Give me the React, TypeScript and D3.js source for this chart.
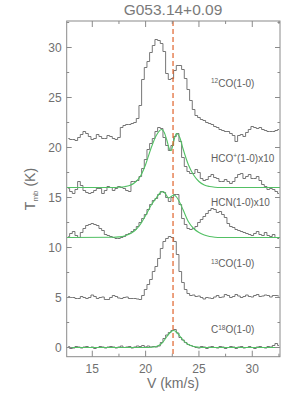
import * as d3 from "d3";

// channel grid of the spectra (km/s)
const V0 = 12.75;
const DV = 0.25;

const CO12 = [
  20.9, 20.8, 20.8, 20.7, 21.0, 21.3, 21.6, 21.4, 21.1, 20.8,
  20.9, 21.3, 21.1, 20.9, 20.9, 21.2, 21.1, 20.9, 20.8, 21.0,
  22.0, 22.2, 22.3, 22.3, 22.4, 22.5, 22.9, 24.2, 26.8, 28.0,
  28.6, 29.5, 30.2, 30.8, 30.7, 30.4, 29.6, 27.4, 26.8, 26.9,
  27.7, 28.2, 28.2, 27.8, 26.9, 25.8, 24.7, 23.8, 23.2, 23.0,
  22.8, 22.7, 22.5, 22.4, 22.3, 22.1, 22.0, 21.8, 21.7, 21.6,
  21.6, 21.4, 21.2, 20.6, 21.2, 21.3, 21.1, 21.5, 21.8, 22.1,
  22.0, 21.9, 22.0, 21.8, 21.7, 21.6, 21.6, 21.6, 21.7, 21.8,
];
const HCOP = [
  15.9, 15.6, 15.4, 15.8, 16.6, 16.2, 15.7, 15.5, 15.4, 15.5,
  15.7, 15.9, 15.9, 15.4, 15.7, 16.1, 16.0, 15.7, 15.9, 16.1,
  16.0, 15.9, 15.7, 15.6, 16.6, 16.6, 16.7, 17.1, 17.9, 18.8,
  19.8, 20.4, 20.9, 21.6, 22.0, 21.9, 21.0, 20.2, 19.7, 20.2,
  21.1, 21.4, 20.6, 19.0, 18.1, 17.6, 17.4, 17.4, 17.8, 17.5,
  16.9, 16.7, 16.8, 17.1, 17.3, 17.0, 16.9, 16.6, 16.6, 16.8,
  16.6, 16.4, 16.6, 17.0, 17.3, 17.4, 16.9, 17.1, 17.3, 16.9,
  16.9, 17.1, 16.7, 16.3, 16.1, 15.8, 15.9, 15.8, 15.6, 15.4,
];
const HCN = [
  11.1, 11.4, 11.6, 11.2, 11.0, 11.5, 11.9, 12.2, 12.3, 12.4,
  12.3, 12.2, 11.9, 11.7, 11.3, 11.2, 11.1, 11.0, 10.9, 10.9,
  11.0, 11.1, 11.3, 11.4, 11.6, 11.8, 12.1, 12.5, 12.9, 13.3,
  13.8, 14.3, 14.7, 14.9, 15.3, 15.6, 15.5, 15.0, 14.6, 15.0,
  15.3, 15.3, 14.3, 12.9, 12.3, 11.9, 11.8, 11.9, 12.1, 12.5,
  12.8, 13.1, 13.4, 13.7, 13.9, 13.8, 13.5, 13.6, 13.3, 13.0,
  12.4, 12.1, 12.0, 11.8, 11.7, 11.6, 11.5, 11.4, 11.3, 11.2,
  11.4, 11.6, 11.3, 11.2, 11.5, 11.2, 11.1, 11.3, 11.0, 10.9,
];
const CO13 = [
  5.1, 5.0, 5.0, 4.9, 4.9, 5.1, 5.0, 4.9, 5.0, 5.25,
  5.1, 4.9, 5.0, 5.05, 4.8, 4.8, 5.0, 5.2, 5.1, 4.95,
  4.9, 5.0, 5.05, 4.9, 4.9, 4.9, 4.85, 4.8, 5.2, 5.8,
  6.3, 6.8, 7.6, 8.1, 8.9, 9.9, 10.6, 10.9, 11.1, 11.0,
  10.6, 9.3, 7.6, 6.5, 5.8, 5.4, 5.2, 5.25, 5.1, 5.15,
  5.0, 4.85, 5.0, 4.95, 4.9, 5.05, 5.2, 5.0, 5.05, 5.3,
  5.2, 5.0, 5.1, 5.3, 5.15, 5.0, 5.1, 5.25, 5.1, 5.05,
  5.2, 5.3, 5.1, 5.15, 5.25, 5.2, 5.05, 5.2, 5.2, 5.15,
];
const C18O = [
  0.1, -0.1, -0.05, 0.1, 0.05, -0.05, 0.05, 0.1, 0.0, 0.05,
  -0.1, 0.0, 0.1, 0.05, -0.05, 0.05, 0.1, 0.05, -0.05, 0.05,
  0.15, 0.0, 0.05, 0.1, -0.05, 0.05, 0.15, 0.1, 0.2, 0.05,
  0.15, 0.05, 0.1, 0.05, 0.15, 0.5, 0.9, 1.25, 1.5, 1.7,
  1.8, 1.45, 1.0, 0.75, 0.5, 0.3, 0.2, 0.1, 0.0, -0.05,
  0.1, 0.05, -0.1, 0.05, 0.1, 0.0, -0.05, 0.1, 0.05, -0.1,
  0.0, 0.1, 0.05, -0.1, 0.05, 0.1, -0.05, 0.0, 0.1, 0.0,
  -0.1, 0.05, 0.1, 0.0, -0.05, 0.1, 0.05, 0.2, 0.4, 0.2,
];

// fitted model curves (green)
const FIT_HCOP_V = [12.6, 17.0, 17.5, 18.0, 18.5, 19.0, 19.5, 20.0, 20.5, 21.0, 21.5, 21.75, 22.0, 22.25, 22.4, 22.6, 22.9, 23.2, 23.5, 24.0, 24.5, 25.0, 25.5, 26.0, 26.5, 27.0, 32.6];
const FIT_HCOP_T = [16.0, 16.0, 16.03, 16.08, 16.2, 16.5, 17.1, 18.3, 19.9, 21.2, 21.8, 21.5, 20.7, 19.8, 19.7, 20.5, 21.4, 21.0, 19.9, 18.3, 17.25, 16.6, 16.25, 16.1, 16.03, 16.0, 16.0];
const FIT_HCN_V = [12.6, 17.0, 17.5, 18.0, 18.5, 19.0, 19.5, 20.0, 20.5, 21.0, 21.4, 21.65, 21.9, 22.15, 22.4, 22.65, 22.9, 23.2, 23.5, 24.0, 24.5, 25.0, 25.5, 26.0, 26.5, 27.0, 32.6];
const FIT_HCN_T = [11.0, 11.02, 11.06, 11.15, 11.35, 11.7, 12.3, 13.2, 14.2, 14.95, 15.5, 15.6, 15.3, 14.95, 15.1, 15.25, 15.05, 14.5, 13.8, 12.6, 11.9, 11.5, 11.25, 11.1, 11.03, 11.0, 11.0];
const FIT_C18O_V = [12.6, 20.0, 20.5, 21.0, 21.5, 22.0, 22.3, 22.6, 22.9, 23.2, 23.5, 24.0, 24.5, 25.0, 25.5, 32.6];
const FIT_C18O_T = [0, 0, 0.02, 0.1, 0.4, 1.1, 1.5, 1.7, 1.55, 1.15, 0.75, 0.3, 0.1, 0.03, 0, 0];

const V_SYS = 22.57;
const X_TICKS = [15, 20, 25, 30];
const X_MINOR = [17.5, 22.5, 27.5, 32.5];
const Y_TICKS = [0, 5, 10, 15, 20, 25, 30];
const Y_MINOR = [2.5, 7.5, 12.5, 17.5, 22.5, 27.5, 32.5];

const LEFT = 66.7, RIGHT = 280, TOP = 21, BOTTOM = 356.7;
const FONT = "'Liberation Sans', Arial, sans-serif";
const AXIS = "#8a8a8a";
const TXT = "#707070";
const DATA = "#666";
const FIT = "#52c064";

export default function App() {
  const x = d3.scaleLinear().domain([12.6, 32.6]).range([LEFT, RIGHT]);
  const y = d3.scaleLinear().domain([-0.92, 32.65]).range([BOTTOM, TOP]);

  const step = d3
    .line<number>()
    .x((_, i) => x(V0 + i * DV))
    .y((d) => y(d))
    .curve(d3.curveStep);

  const smooth = (vs: number[], ts: number[]) =>
    d3
      .line<number>()
      .x((_, i) => x(vs[i]))
      .y((d) => y(d))
      .curve(d3.curveMonotoneX)(ts) || "";

  const spectra = [CO12, HCOP, HCN, CO13, C18O];
  const fits = [
    smooth(FIT_HCOP_V, FIT_HCOP_T),
    smooth(FIT_HCN_V, FIT_HCN_T),
    smooth(FIT_C18O_V, FIT_C18O_T),
  ];

  const labelX = 211;
  const sup = (s: string) => (
    <tspan fontSize={6.5} dy={-3.5}>
      {s}
    </tspan>
  );

  return (
    <svg
      width={300}
      height={399}
      style={{ position: "absolute", left: 0, top: 0, background: "#fff" }}
      fontFamily={FONT}
    >
      <defs>
        <clipPath id="plot">
          <rect x={LEFT} y={TOP} width={RIGHT - LEFT} height={BOTTOM - TOP} />
        </clipPath>
      </defs>

      <text x={173} y={15} textAnchor="middle" fontSize={15.5} fill="#7a7a7a">
        G053.14+0.09
      </text>

      <g clipPath="url(#plot)">
        {spectra.map((s, i) => (
          <path key={i} d={step(s) || ""} fill="none" stroke={DATA} strokeWidth={0.9} />
        ))}
        {fits.map((d, i) => (
          <path key={i} d={d} fill="none" stroke={FIT} strokeWidth={1.1} />
        ))}
        <line
          x1={x(V_SYS)}
          x2={x(V_SYS)}
          y1={TOP}
          y2={BOTTOM}
          stroke="#e0622a"
          strokeWidth={1.2}
          strokeDasharray="5,3"
        />
      </g>

      {/* frame and ticks */}
      <rect x={LEFT} y={TOP} width={RIGHT - LEFT} height={BOTTOM - TOP} fill="none" stroke={AXIS} strokeWidth={1} />
      {X_TICKS.map((t) => (
        <g key={t} stroke={AXIS}>
          <line x1={x(t)} x2={x(t)} y1={BOTTOM} y2={BOTTOM - 6} />
          <line x1={x(t)} x2={x(t)} y1={TOP} y2={TOP + 6} />
        </g>
      ))}
      {X_MINOR.map((t) => (
        <g key={t} stroke={AXIS}>
          <line x1={x(t)} x2={x(t)} y1={BOTTOM} y2={BOTTOM - 3} />
          <line x1={x(t)} x2={x(t)} y1={TOP} y2={TOP + 3} />
        </g>
      ))}
      {Y_TICKS.map((t) => (
        <g key={t} stroke={AXIS}>
          <line x1={LEFT} x2={LEFT + 5} y1={y(t)} y2={y(t)} />
          <line x1={RIGHT} x2={RIGHT - 5} y1={y(t)} y2={y(t)} />
        </g>
      ))}
      {Y_MINOR.map((t) => (
        <g key={t} stroke={AXIS}>
          <line x1={LEFT} x2={LEFT + 2.5} y1={y(t)} y2={y(t)} />
          <line x1={RIGHT} x2={RIGHT - 2.5} y1={y(t)} y2={y(t)} />
        </g>
      ))}

      {X_TICKS.map((t) => (
        <text key={t} x={x(t)} y={373} textAnchor="middle" fontSize={12} fill={TXT}>
          {t}
        </text>
      ))}
      {Y_TICKS.map((t) => (
        <text key={t} x={LEFT - 5} y={y(t) + 4.3} textAnchor="end" fontSize={12} fill={TXT}>
          {t}
        </text>
      ))}

      <text x={173} y={388} textAnchor="middle" fontSize={14} fill={TXT}>
        V (km/s)
      </text>
      <text transform="translate(35,189) rotate(-90)" textAnchor="middle" fontSize={14} fill={TXT}>
        T
        <tspan fontSize={8} dy={3}>
          mb
        </tspan>
        <tspan dy={-3}> (K)</tspan>
      </text>

      {/* line labels */}
      <g fontSize={10} fill="#606060">
        <text x={labelX} y={86.5}>
          {sup("12")}
          <tspan dy={3.5}>CO(1-0)</tspan>
        </text>
        <text x={labelX} y={161.5}>
          HCO{sup("+")}
          <tspan dy={3.5}>(1-0)x10</tspan>
        </text>
        <text x={labelX} y={205.5}>
          HCN(1-0)x10
        </text>
        <text x={labelX} y={267}>
          {sup("13")}
          <tspan dy={3.5}>CO(1-0)</tspan>
        </text>
        <text x={labelX} y={333}>
          C{sup("18")}
          <tspan dy={3.5}>O(1-0)</tspan>
        </text>
      </g>
    </svg>
  );
}
